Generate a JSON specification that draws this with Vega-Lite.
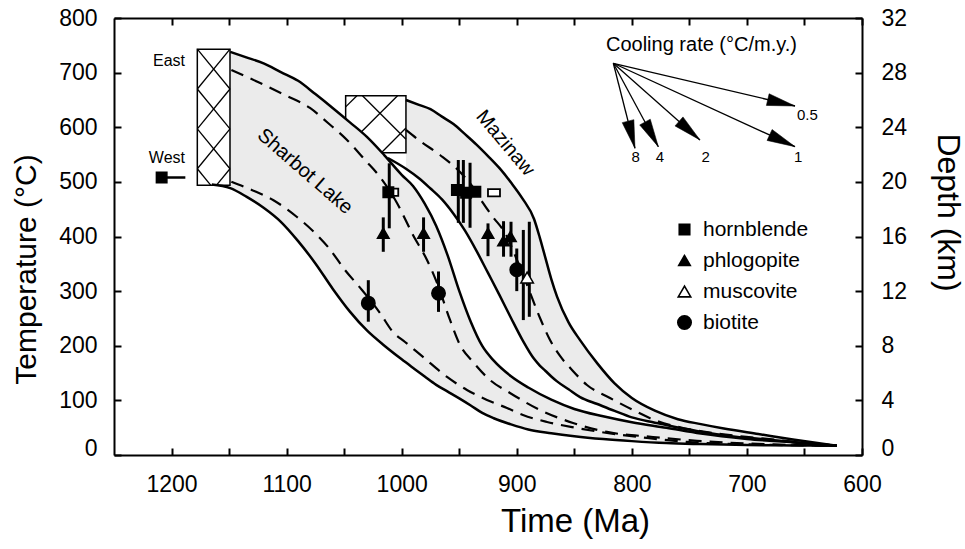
{
"$schema": "https://vega.github.io/schema/vega-lite/v6.json",
"width": 748, "height": 437,
"autosize": {"type": "none"},
"padding": {"left": 114, "top": 18, "right": 103, "bottom": 94},
"background": "white",
"config": {
  "font": "Liberation Sans",
  "view": {"stroke": null},
  "axis": {"grid": false, "domainColor": "black", "domainWidth": 2, "tickColor": "black", "tickWidth": 2, "tickSize": -7, "labelColor": "black", "labelFont": "Liberation Sans", "labelFontSize": 23, "labelFlush": false, "labelOverlap": false, "titleFont": "Liberation Sans", "titleFontSize": 32, "titleFontWeight": "normal", "titleColor": "black"},
  "legend": {"orient": "none", "legendX": 560, "legendY": 201, "title": null, "labelFont": "Liberation Sans", "labelFontSize": 21, "labelColor": "black", "symbolSize": 140, "rowPadding": 9, "labelOffset": 8, "symbolStrokeColor": "black", "symbolStrokeWidth": 1.5, "symbolOpacity": 1, "padding": 0}
},
"datasets": {
  "sharbot": [
    {"t":1165,"su":null,"sl":495},{"t":1149,"su":738,"sl":488.6},{"t":1135,"su":728,"sl":473},{"t":1120,"su":717,"sl":452.6},
    {"t":1105,"su":701,"sl":426.9},{"t":1090,"su":685,"sl":391.5},{"t":1075,"su":660.7,"sl":350.7},{"t":1060,"su":635.3,"sl":304.5},
    {"t":1045,"su":609,"sl":262.5},{"t":1030,"su":581.9,"sl":227.5},{"t":1015,"su":548.6,"sl":200.1},{"t":1000,"su":512.9,"sl":175.2},
    {"t":990,"su":492.1,"sl":159.3},{"t":980,"su":460.2,"sl":143.6},{"t":970,"su":419.4,"sl":128.4},{"t":960,"su":365.1,"sl":116},
    {"t":950,"su":300.5,"sl":103.6},{"t":940,"su":244,"sl":90.6},{"t":930,"su":199.6,"sl":77},{"t":920,"su":172.7,"sl":67.3},
    {"t":905,"su":144.2,"sl":56},{"t":890,"su":123.5,"sl":46.7},{"t":870,"su":101.3,"sl":39.9},{"t":850,"su":84.3,"sl":34.5},
    {"t":825,"su":70.9,"sl":29.3},{"t":800,"su":60,"sl":25.4},{"t":770,"su":49.9,"sl":21.8},{"t":740,"su":39.2,"sl":20},
    {"t":700,"su":29.4,"sl":18.3},{"t":660,"su":23,"sl":17.5},{"t":622,"su":17,"sl":17}
  ],
  "maz": [
    {"t":1012,"mu":null,"ml":543.7},{"t":996.3,"mu":649.9,"ml":524},{"t":985,"mu":641,"ml":506.6},{"t":975,"mu":633,"ml":487.8},
    {"t":965,"mu":619.4,"ml":467.8},{"t":955,"mu":605.9,"ml":441.6},{"t":945,"mu":587.4,"ml":410.7},{"t":935,"mu":568.3,"ml":373.7},
    {"t":925,"mu":547.3,"ml":333.3},{"t":915,"mu":525.1,"ml":292.8},{"t":905,"mu":498.8,"ml":250.7},{"t":895,"mu":469.4,"ml":210.3},
    {"t":885,"mu":432,"ml":176},{"t":880,"mu":398,"ml":163.7},{"t":875,"mu":360,"ml":153.8},{"t":870,"mu":322,"ml":143.8},
    {"t":865,"mu":290,"ml":134.8},{"t":855,"mu":242.7,"ml":120.4},{"t":845,"mu":210.3,"ml":106},{"t":830,"mu":167.7,"ml":93.3},
    {"t":815,"mu":131.1,"ml":80.7},{"t":800,"mu":104.3,"ml":68.8},{"t":780,"mu":81.1,"ml":59.2},{"t":760,"mu":65.5,"ml":50.2},
    {"t":740,"mu":56.5,"ml":42.8},{"t":720,"mu":48.4,"ml":35.9},{"t":690,"mu":38.4,"ml":29.8},{"t":660,"mu":28.4,"ml":23.6},
    {"t":622,"mu":17,"ml":17}
  ],
  "dash": [
    {"c":"sud","t":1148,"T":704.8},{"c":"sud","t":1124.9,"T":682.8},{"c":"sud","t":1101.4,"T":659},{"c":"sud","t":1079.7,"T":635.3},
    {"c":"sud","t":1064,"T":607.8},{"c":"sud","t":1047.5,"T":576.7},{"c":"sud","t":1031.9,"T":540.1},{"c":"sud","t":1018.9,"T":509},
    {"c":"sud","t":1004.1,"T":461.4},{"c":"sud","t":990.2,"T":402.8},{"c":"sud","t":978,"T":357},{"c":"sud","t":969.3,"T":315},
    {"c":"sud","t":958,"T":247.2},{"c":"sud","t":949.3,"T":201.4},{"c":"sud","t":938,"T":170.3},{"c":"sud","t":923.3,"T":137.4},
    {"c":"sud","t":905.9,"T":113.6},{"c":"sud","t":879.8,"T":82.4},{"c":"sud","t":851.1,"T":58.6},{"c":"sud","t":821.6,"T":42.2},
    {"c":"sud","t":781.6,"T":33},{"c":"sud","t":743.4,"T":26},{"c":"sud","t":700,"T":21},{"c":"sud","t":622,"T":17},
    {"c":"sld","t":1148,"T":500.4},{"c":"sld","t":1130.3,"T":485.2},{"c":"sld","t":1111.8,"T":466.9},{"c":"sld","t":1091,"T":435.7},
    {"c":"sld","t":1073.6,"T":402.8},{"c":"sld","t":1064,"T":380.8},{"c":"sld","t":1049.3,"T":338.7},{"c":"sld","t":1034.5,"T":302.1},
    {"c":"sld","t":1018.9,"T":260},{"c":"sld","t":1007.6,"T":225.2},{"c":"sld","t":997.1,"T":206.9},{"c":"sld","t":981.5,"T":179.5},
    {"c":"sld","t":960.6,"T":142.9},{"c":"sld","t":943.3,"T":119},{"c":"sld","t":925.9,"T":100.8},{"c":"sld","t":908.5,"T":86.1},
    {"c":"sld","t":894.6,"T":73.3},{"c":"sld","t":873.7,"T":60.5},{"c":"sld","t":847.7,"T":49.5},{"c":"sld","t":821.6,"T":40.3},
    {"c":"sld","t":786.8,"T":31.2},{"c":"sld","t":752.1,"T":23.9},{"c":"sld","t":700,"T":19.5},{"c":"sld","t":622,"T":17},
    {"c":"md","t":996.3,"T":595},{"c":"md","t":984.1,"T":574.8},{"c":"md","t":966.7,"T":549.2},{"c":"md","t":949.3,"T":518.1},
    {"c":"md","t":936.3,"T":485.2},{"c":"md","t":929.4,"T":461.4},{"c":"md","t":920.7,"T":435.7},{"c":"md","t":910.2,"T":406.4},
    {"c":"md","t":899.8,"T":357},{"c":"md","t":891.1,"T":311.3},{"c":"md","t":879.8,"T":250.8},{"c":"md","t":871.1,"T":210.6},
    {"c":"md","t":862.4,"T":181.3},{"c":"md","t":852,"T":155.7},{"c":"md","t":839,"T":128.2},{"c":"md","t":819,"T":104.4},
    {"c":"md","t":799,"T":82.4},{"c":"md","t":778.2,"T":62.3},{"c":"md","t":755.6,"T":49.5},{"c":"md","t":729.5,"T":40.3},
    {"c":"md","t":690,"T":31},{"c":"md","t":622,"T":17}
  ],
  "boxes": [
    {"name":"Mazinaw","t1":1048.7,"t2":996.3,"T1":553.4,"T2":657.8},
    {"name":"East","t1":1177.6,"t2":1149.2,"T1":494,"T2":743}
  ],
  "hatchM": [
    {"t":1034.1,"T":657.8,"t2":996.3,"T2":578},
    {"t":1003.6,"T":657.8,"t2":1048.7,"T2":562.8},
    {"t":996.3,"T":598.6,"t2":1017.7,"T2":553.4},
    {"t":1038.9,"T":657.8,"t2":1048.7,"T2":637.3},
    {"t":1048.7,"T":613.8,"t2":1020,"T2":553.4}
  ],
  "hatchE": [
    {"t":1177.6,"T":743,"t2":1149.2,"T2":670},
    {"t":1149.2,"T":670,"t2":1177.6,"T2":597},
    {"t":1177.6,"T":597,"t2":1149.2,"T2":524},
    {"t":1149.2,"T":524,"t2":1160.9,"T2":494},
    {"t":1149.2,"T":743,"t2":1177.6,"T2":670},
    {"t":1177.6,"T":670,"t2":1149.2,"T2":597},
    {"t":1149.2,"T":597,"t2":1177.6,"T2":524},
    {"t":1177.6,"T":524,"t2":1166,"T2":494}
  ],
  "pts": [
    {"m":"hornblende","t":1208.6,"T":508},{"m":"hornblende","t":1011.6,"T":481},{"m":"hornblende","t":952,"T":485},
    {"m":"hornblende","t":944,"T":480},{"m":"hornblende","t":936,"T":482},
    {"m":"phlogopite","t":1016,"T":406},{"m":"phlogopite","t":981,"T":406},{"m":"phlogopite","t":925,"T":406},
    {"m":"phlogopite","t":911.5,"T":392},{"m":"phlogopite","t":905.5,"T":400},
    {"m":"muscovite","t":891,"T":325},
    {"m":"biotite","t":1029,"T":278},{"m":"biotite","t":968,"T":296},{"m":"biotite","t":900,"T":339}
  ],
  "openrect": [{"t":1008.2,"T":481},{"t":919.8,"T":480}],
  "bars": [
    {"t":1010.8,"lo":415,"hi":534},{"t":950.8,"lo":425,"hi":540},{"t":946.4,"lo":425,"hi":540},{"t":940.6,"lo":416,"hi":535},
    {"t":1016,"lo":372,"hi":435},{"t":981,"lo":372,"hi":435},{"t":925,"lo":364,"hi":424},{"t":911.5,"lo":363,"hi":428},{"t":905,"lo":363,"hi":427},
    {"t":894.3,"lo":247,"hi":412},{"t":889.1,"lo":253,"hi":427},
    {"t":1029,"lo":244,"hi":320},{"t":968,"lo":262,"hi":336},{"t":900,"lo":300,"hi":378}
  ],
  "hbar": [{"t":1212,"t2":1188,"T":508}],
  "arrows": [
    {"rate":"0.5","r":0.5,"t0":816.1,"T0":717.1,"t":658.2,"T":638.9,"lt":647.4,"lT":622.4},
    {"rate":"1","r":1,"t0":816.1,"T0":717.1,"t":658.2,"T":564.4,"lt":655.4,"lT":546},
    {"rate":"2","r":2,"t0":816.1,"T0":717.1,"t":740.8,"T":576.7,"lt":735.8,"lT":546},
    {"rate":"4","r":4,"t0":816.1,"T0":717.1,"t":777,"T":564.4,"lt":775.5,"lT":546},
    {"rate":"8","r":8,"t0":816.1,"T0":717.1,"t":797.3,"T":561.5,"lt":796.6,"lT":546}
  ],
  "sidelabels": [{"text":"East","t":1188.3,"T":721},{"text":"West","t":1188.3,"T":543}]
},
"resolve": {"axis": {"x": "independent", "y": "independent"}},
"layer": [
  {
    "data": {"name": "maz"},
    "mark": {"type": "area", "fill": "#ebebeb", "interpolate": "monotone"},
    "encoding": {
      "x": {"field": "t", "type": "quantitative", "scale": {"domain": [600, 1250], "reverse": true, "nice": false, "zero": false},
        "axis": {"orient": "bottom", "values": [1200,1150,1100,1050,1000,950,900,850,800,750,700,650,600], "format": "d",
          "labelExpr": "datum.value % 100 === 0 ? datum.label : ''", "labelPadding": 25,
          "title": "Time (Ma)", "titleFontSize": 33, "titleX": 461, "titleY": 76, "titleBaseline": "alphabetic", "titleAlign": "center"}},
      "y": {"field": "mu", "type": "quantitative", "scale": {"domain": [0, 800], "nice": false, "zero": false},
        "axis": {"orient": "left", "values": [0,100,200,300,400,500,600,700,800], "format": "d", "labelPadding": 24,
          "labelBaseline": {"condition": {"test": "datum.value === 0", "value": "alphabetic"}, "value": "middle"},
          "title": "Temperature (°C)", "titleFontSize": 30, "titleX": -79, "titleY": 251, "titleAngle": -90, "titleBaseline": "alphabetic", "titleAlign": "center"}},
      "y2": {"field": "ml"}
    }
  },
  {
    "data": {"name": "boxes"},
    "transform": [{"filter": "datum.name === 'Mazinaw'"}],
    "mark": {"type": "rect", "fill": "white", "stroke": "black", "strokeWidth": 1.5},
    "encoding": {
      "x": {"field": "t1", "type": "quantitative", "axis": null}, "x2": {"field": "t2"},
      "y": {"field": "T1", "type": "quantitative", "axis": null}, "y2": {"field": "T2"}
    }
  },
  {
    "data": {"name": "hatchM"},
    "mark": {"type": "rule", "color": "black", "strokeWidth": 1.3},
    "encoding": {
      "x": {"field": "t", "type": "quantitative", "axis": null}, "x2": {"field": "t2"},
      "y": {"field": "T", "type": "quantitative", "axis": null}, "y2": {"field": "T2"}
    }
  },
  {
    "data": {"name": "sharbot"},
    "mark": {"type": "area", "fill": "#ebebeb", "interpolate": "monotone"},
    "encoding": {
      "x": {"field": "t", "type": "quantitative",
        "axis": {"orient": "top", "values": [1200,1150,1100,1050,1000,950,900,850,800,750,700,650,600], "labels": false, "title": null}},
      "y": {"field": "su", "type": "quantitative",
        "axis": {"orient": "right", "values": [0,100,200,300,400,500,600,700,800], "labelExpr": "'' + (datum.value / 25)", "labelPadding": 26,
          "labelBaseline": {"condition": {"test": "datum.value === 0", "value": "alphabetic"}, "value": "middle"},
          "title": "Depth (km)", "titleX": 75, "titleY": 194, "titleAngle": 90, "titleBaseline": "alphabetic", "titleAlign": "center"}},
      "y2": {"field": "sl"}
    }
  },
  {
    "data": {"name": "boxes"},
    "transform": [{"filter": "datum.name === 'East'"}],
    "mark": {"type": "rect", "fill": "white", "stroke": "black", "strokeWidth": 1.5},
    "encoding": {
      "x": {"field": "t1", "type": "quantitative", "axis": null}, "x2": {"field": "t2"},
      "y": {"field": "T1", "type": "quantitative", "axis": null}, "y2": {"field": "T2"}
    }
  },
  {
    "data": {"name": "hatchE"},
    "mark": {"type": "rule", "color": "black", "strokeWidth": 1.3},
    "encoding": {
      "x": {"field": "t", "type": "quantitative", "axis": null}, "x2": {"field": "t2"},
      "y": {"field": "T", "type": "quantitative", "axis": null}, "y2": {"field": "T2"}
    }
  },
  {
    "data": {"name": "sharbot"},
    "transform": [{"fold": ["su", "sl"], "as": ["c", "T"]}],
    "mark": {"type": "line", "color": "black", "strokeWidth": 2.5, "interpolate": "monotone"},
    "encoding": {
      "x": {"field": "t", "type": "quantitative", "axis": null},
      "y": {"field": "T", "type": "quantitative", "axis": null},
      "detail": {"field": "c"}
    }
  },
  {
    "data": {"name": "maz"},
    "transform": [{"fold": ["mu", "ml"], "as": ["c", "T"]}],
    "mark": {"type": "line", "color": "black", "strokeWidth": 2.5, "interpolate": "monotone"},
    "encoding": {
      "x": {"field": "t", "type": "quantitative", "axis": null},
      "y": {"field": "T", "type": "quantitative", "axis": null},
      "detail": {"field": "c"}
    }
  },
  {
    "data": {"name": "dash"},
    "mark": {"type": "line", "color": "black", "strokeWidth": 2.2, "strokeDash": [13, 8], "interpolate": "monotone"},
    "encoding": {
      "x": {"field": "t", "type": "quantitative", "axis": null},
      "y": {"field": "T", "type": "quantitative", "axis": null},
      "detail": {"field": "c"}
    }
  },
  {
    "data": {"name": "bars"},
    "mark": {"type": "rule", "color": "black", "strokeWidth": 3},
    "encoding": {
      "x": {"field": "t", "type": "quantitative", "axis": null},
      "y": {"field": "lo", "type": "quantitative", "axis": null}, "y2": {"field": "hi"}
    }
  },
  {
    "data": {"name": "hbar"},
    "mark": {"type": "rule", "color": "black", "strokeWidth": 2.5},
    "encoding": {
      "x": {"field": "t", "type": "quantitative", "axis": null}, "x2": {"field": "t2"},
      "y": {"field": "T", "type": "quantitative", "axis": null}
    }
  },
  {
    "data": {"name": "openrect"},
    "mark": {"type": "point", "shape": "M-1,-0.6H1V0.6H-1Z", "size": 144, "fill": "white", "filled": true, "stroke": "black", "strokeWidth": 1.8, "opacity": 1},
    "encoding": {
      "x": {"field": "t", "type": "quantitative", "axis": null},
      "y": {"field": "T", "type": "quantitative", "axis": null}
    }
  },
  {
    "data": {"name": "pts"},
    "mark": {"type": "point", "filled": true, "stroke": "black", "strokeWidth": 1.5, "opacity": 1},
    "encoding": {
      "x": {"field": "t", "type": "quantitative", "axis": null},
      "y": {"field": "T", "type": "quantitative", "axis": null},
      "shape": {"field": "m", "type": "nominal",
        "scale": {"domain": ["hornblende","phlogopite","muscovite","biotite"], "range": ["square","triangle-up","triangle-up","circle"]},
        "legend": {"symbolStrokeColor": "black", "encode": {"symbols": {"update": {"stroke": {"value": "black"}, "strokeWidth": {"value": 1.6}}}}}},
      "fill": {"field": "m", "type": "nominal",
        "scale": {"domain": ["hornblende","phlogopite","muscovite","biotite"], "range": ["black","black","white","black"]},
        "legend": {"symbolStrokeColor": "black", "encode": {"symbols": {"update": {"stroke": {"value": "black"}, "strokeWidth": {"value": 1.6}}}}}},
      "size": {"field": "m", "type": "nominal",
        "scale": {"domain": ["hornblende","phlogopite","muscovite","biotite"], "range": [110, 180, 180, 140]},
        "legend": {"symbolStrokeColor": "black", "encode": {"symbols": {"update": {"stroke": {"value": "black"}, "strokeWidth": {"value": 1.6}}}}}}
    }
  },
  {
    "data": {"name": "arrows"},
    "mark": {"type": "rule", "color": "black", "strokeWidth": 1.3},
    "encoding": {
      "x": {"field": "t0", "type": "quantitative", "axis": null}, "x2": {"field": "t"},
      "y": {"field": "T0", "type": "quantitative", "axis": null}, "y2": {"field": "T"}
    }
  },
  {
    "data": {"name": "arrows"},
    "mark": {"type": "point", "shape": "M0,0L0.6,2.8L-0.6,2.8Z", "size": 400, "filled": true, "fill": "black", "stroke": "black", "strokeWidth": 0.5, "opacity": 1},
    "encoding": {
      "x": {"field": "t", "type": "quantitative", "axis": null},
      "y": {"field": "T", "type": "quantitative", "axis": null},
      "angle": {"field": "r", "type": "quantitative", "scale": {"type": "linear", "domain": [0.5, 1, 2, 4, 8], "range": [103.2, 114.7, 131.5, 151.6, 165.7]}, "legend": null}
    }
  },
  {
    "data": {"name": "arrows"},
    "mark": {"type": "text", "fontSize": 15, "color": "black", "align": "center", "baseline": "middle"},
    "encoding": {
      "x": {"field": "lt", "type": "quantitative", "axis": null},
      "y": {"field": "lT", "type": "quantitative", "axis": null},
      "text": {"field": "rate"}
    }
  },
  {
    "data": {"values": [{"text": "Cooling rate (°C/m.y.)", "t": 656.5, "T": 750.6}]},
    "mark": {"type": "text", "fontSize": 20, "color": "black", "align": "right", "baseline": "middle"},
    "encoding": {
      "x": {"field": "t", "type": "quantitative", "axis": null},
      "y": {"field": "T", "type": "quantitative", "axis": null},
      "text": {"field": "text"}
    }
  },
  {
    "data": {"name": "sidelabels"},
    "mark": {"type": "text", "fontSize": 16, "color": "black", "align": "right", "baseline": "middle"},
    "encoding": {
      "x": {"field": "t", "type": "quantitative", "axis": null},
      "y": {"field": "T", "type": "quantitative", "axis": null},
      "text": {"field": "text"}
    }
  },
  {
    "data": {"values": [{"text": "Sharbot Lake", "t": 1084, "T": 519}]},
    "mark": {"type": "text", "fontSize": 20, "color": "black", "align": "center", "baseline": "middle", "angle": 41},
    "encoding": {
      "x": {"field": "t", "type": "quantitative", "axis": null},
      "y": {"field": "T", "type": "quantitative", "axis": null},
      "text": {"field": "text"}
    }
  },
  {
    "data": {"values": [{"text": "Mazinaw", "t": 910, "T": 571}]},
    "mark": {"type": "text", "fontSize": 20, "color": "black", "align": "center", "baseline": "middle", "angle": 50},
    "encoding": {
      "x": {"field": "t", "type": "quantitative", "axis": null},
      "y": {"field": "T", "type": "quantitative", "axis": null},
      "text": {"field": "text"}
    }
  }
]
}
